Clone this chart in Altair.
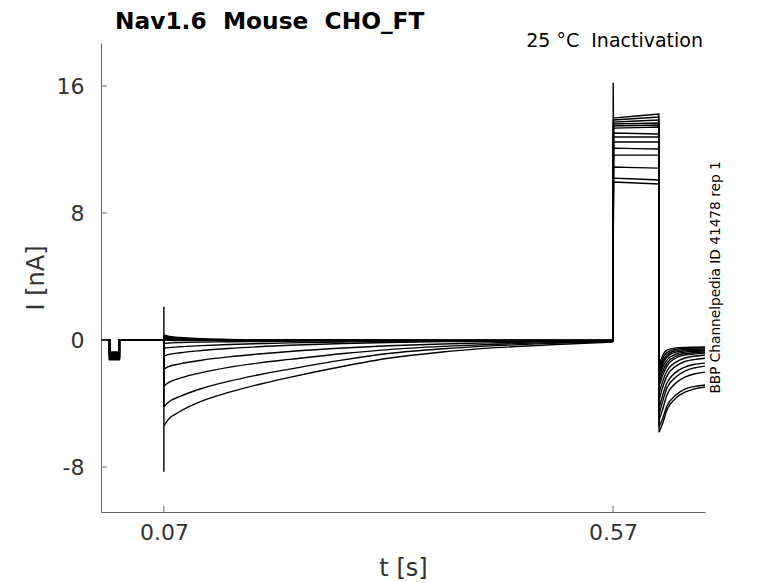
import altair as alt
import pandas as pd

# ---- data (time in s, current in nA) ----
t_step = [0.0095, 0.0205]
t_pre = [0.07, 0.075, 0.088, 0.112, 0.142, 0.179, 0.21, 0.27, 0.32, 0.38, 0.44, 0.5, 0.57]
t_test = [0.5705, 0.596, 0.621]
t_tail = [0.6213, 0.625, 0.63, 0.64, 0.65, 0.66, 0.6724]

step_nA = [-1.25, -1.22, -1.20, -1.17, -1.14, -1.10, -1.06, -1.02, -0.98, -0.94, -0.90, -0.85, -0.80, -0.75]

pre_nA = [
    [-5.42, -5.00, -4.50, -3.85, -3.30, -2.75, -2.35, -1.65, -1.15, -0.75, -0.48, -0.30, -0.13],
    [-4.22, -3.92, -3.55, -3.05, -2.60, -2.15, -1.83, -1.25, -0.85, -0.55, -0.35, -0.21, -0.09],
    [-2.90, -2.68, -2.40, -2.05, -1.72, -1.42, -1.22, -0.85, -0.60, -0.40, -0.26, -0.16, -0.08],
    [-1.83, -1.68, -1.50, -1.27, -1.06, -0.86, -0.72, -0.50, -0.36, -0.25, -0.17, -0.11, -0.06],
    [-1.01, -0.92, -0.80, -0.66, -0.53, -0.41, -0.33, -0.22, -0.15, -0.10, -0.08, -0.06, -0.05],
    [-0.52, -0.48, -0.42, -0.35, -0.28, -0.22, -0.18, -0.12, -0.09, -0.07, -0.06, -0.05, -0.04],
    [-0.21, -0.19, -0.16, -0.13, -0.11, -0.09, -0.08, -0.06, -0.05, -0.04, -0.04, -0.03, -0.03],
    [-0.02, -0.02, -0.03, -0.03, -0.03, -0.03, -0.03, -0.03, -0.03, -0.03, -0.03, -0.03, -0.03],
    [0.05, 0.03, 0.01, 0.00, -0.01, -0.02, -0.02, -0.02, -0.02, -0.02, -0.02, -0.02, -0.02],
    [0.10, 0.07, 0.04, 0.01, 0.00, -0.01, -0.01, -0.02, -0.02, -0.02, -0.02, -0.02, -0.02],
    [0.15, 0.11, 0.07, 0.03, 0.01, 0.00, -0.01, -0.01, -0.02, -0.02, -0.02, -0.02, -0.02],
    [0.20, 0.15, 0.09, 0.04, 0.02, 0.00, -0.01, -0.01, -0.01, -0.02, -0.02, -0.02, -0.02],
    [0.25, 0.20, 0.12, 0.06, 0.03, 0.01, 0.00, -0.01, -0.01, -0.01, -0.02, -0.02, -0.02],
    [0.31, 0.25, 0.16, 0.09, 0.04, 0.02, 0.01, 0.00, -0.01, -0.01, -0.01, -0.02, -0.02],
]

test_nA = [
    [9.95, 9.89, 9.83],
    [10.20, 10.14, 10.08],
    [10.90, 10.86, 10.83],
    [11.65, 11.65, 11.65],
    [12.09, 12.06, 12.03],
    [12.47, 12.47, 12.47],
    [12.79, 12.79, 12.79],
    [13.04, 13.01, 12.98],
    [13.35, 13.38, 13.42],
    [13.48, 13.51, 13.54],
    [13.61, 13.64, 13.67],
    [13.73, 13.80, 13.86],
    [13.86, 13.95, 14.05],
    [13.98, 14.11, 14.24],
]

tail_nA = [
    [-1.64, -1.01, -0.63, -0.49, -0.46, -0.45, -0.44],
    [-1.83, -1.20, -0.79, -0.57, -0.53, -0.51, -0.50],
    [-2.02, -1.39, -0.94, -0.66, -0.60, -0.58, -0.57],
    [-2.20, -1.57, -1.07, -0.76, -0.68, -0.65, -0.63],
    [-2.39, -1.76, -1.26, -0.88, -0.76, -0.71, -0.69],
    [-2.65, -2.02, -1.45, -1.01, -0.85, -0.79, -0.76],
    [-2.90, -2.27, -1.64, -1.13, -0.94, -0.88, -0.82],
    [-3.34, -2.65, -1.95, -1.39, -1.13, -1.02, -0.94],
    [-3.78, -3.02, -2.27, -1.64, -1.35, -1.23, -1.15],
    [-4.28, -3.53, -2.71, -2.02, -1.70, -1.54, -1.45],
    [-4.66, -3.91, -3.02, -2.33, -1.95, -1.76, -1.64],
    [-5.04, -4.41, -3.46, -2.71, -2.33, -2.14, -2.02],
    [-5.48, -4.98, -4.16, -3.46, -3.09, -2.93, -2.83],
    [-5.80, -5.29, -4.41, -3.65, -3.28, -3.09, -2.96],
]

spike_pre_nA = [2.1, -8.3]     # transient at the start of the prepulse (trace 0)
spike_test_nA = 16.2           # transient at the start of the test pulse (trace 13)

x_ticks = [0.07, 0.57]
y_ticks = [-8, 0, 8, 16]
x_domain = [0.0, 0.6724]
y_domain = [-10.83, 18.71]

# ---- build the long table: straight segments (steps, jumps) and smooth segments (decays) ----
rows = []
for k in range(len(pre_nA)):
    seg_a = [(0.0, 0.0), (t_step[0], 0.0), (t_step[0], step_nA[k]),
             (t_step[1], step_nA[k]), (t_step[1], 0.0), (t_pre[0], 0.0)]
    if k == 0:
        seg_a += [(t_pre[0], spike_pre_nA[0]), (t_pre[0], spike_pre_nA[1])]
    seg_a += [(t_pre[0], pre_nA[k][0])]
    seg_b = list(zip(t_pre, pre_nA[k]))
    seg_c = [(t_pre[-1], pre_nA[k][-1])]
    if k == len(pre_nA) - 1:
        seg_c += [(0.5702, spike_test_nA)]
    seg_c += list(zip(t_test, test_nA[k])) + [(t_tail[0], tail_nA[k][0])]
    seg_d = list(zip(t_tail, tail_nA[k]))
    for name, seg, smooth in (("a", seg_a, False), ("b", seg_b, True),
                              ("c", seg_c, False), ("d", seg_d, True)):
        for i, (t, v) in enumerate(seg):
            rows.append({"trace": f"{k}{name}", "seq": i, "t": t, "I": v, "smooth": smooth})
df = pd.DataFrame(rows)

W, H = 604, 469
xs = alt.Scale(domain=x_domain, nice=False, zero=False)
ys = alt.Scale(domain=y_domain, nice=False, zero=False)

x_enc = alt.X("t:Q", scale=xs, title="t [s]",
              axis=alt.Axis(values=x_ticks, labelExpr="toString(datum.value)", grid=False,
                            ticks=False, labelPadding=10, titlePadding=13))
y_enc = alt.Y("I:Q", scale=ys, title="I [nA]",
              axis=alt.Axis(values=y_ticks, labelExpr="toString(datum.value)", grid=False,
                            ticks=False, labelPadding=17, titlePadding=8))

base = alt.Chart(df)
straight = base.transform_filter("!datum.smooth").mark_line(
    color="black", strokeWidth=1.4, clip=True).encode(
    x=x_enc, y=y_enc, detail="trace:N", order="seq:Q")
smooth = base.transform_filter("datum.smooth").mark_line(
    color="black", strokeWidth=1.4, clip=True, interpolate="monotone").encode(
    x=alt.X("t:Q", scale=xs), y=alt.Y("I:Q", scale=ys), detail="trace:N", order="seq:Q")

ytick = alt.Chart(pd.DataFrame({"v": y_ticks})).mark_rule(color="#666666", strokeWidth=1).encode(
    y=alt.Y("v:Q", scale=ys), x=alt.value(0), x2=alt.value(6))
xtick = alt.Chart(pd.DataFrame({"v": x_ticks})).mark_rule(color="#666666", strokeWidth=1).encode(
    x=alt.X("v:Q", scale=xs), y=alt.value(H), y2=alt.value(H - 6))

title = alt.Chart(pd.DataFrame({"s": ["Nav1.6\u00a0\u00a0Mouse\u00a0\u00a0CHO_FT"]})).mark_text(
    font="DejaVu Sans", fontWeight="bold", fontSize=23.3, align="left", baseline="alphabetic",
    color="black").encode(text="s:N", x=alt.value(14), y=alt.value(-14))
sub = alt.Chart(pd.DataFrame({"s": ["25 °C\u00a0\u00a0Inactivation"]})).mark_text(
    font="DejaVu Sans", fontSize=19, align="right", baseline="alphabetic",
    color="black").encode(text="s:N", x=alt.value(602), y=alt.value(4))
side = alt.Chart(pd.DataFrame({"s": ["BBP Channelpedia ID 41478 rep 1"]})).mark_text(
    font="DejaVu Sans", fontSize=13.7, align="center", baseline="middle", angle=270,
    color="black").encode(text="s:N", x=alt.value(615), y=alt.value(H / 2))

chart = alt.layer(straight, smooth, ytick, xtick, title, sub, side).properties(
    width=W, height=H,
    autosize=alt.AutoSizeParams(type="none"),
    padding={"left": 93, "top": 35, "right": 65, "bottom": 71},
).configure_view(stroke=None).configure_axis(
    domainColor="#666666", domainWidth=1,
    labelColor="#333333", labelFont="DejaVu Sans", labelFontSize=22,
    titleColor="#333333", titleFont="DejaVu Sans", titleFontSize=24, titleFontWeight="normal",
)

chart.save("out.html", embed_options={"renderer": "svg", "actions": False})
